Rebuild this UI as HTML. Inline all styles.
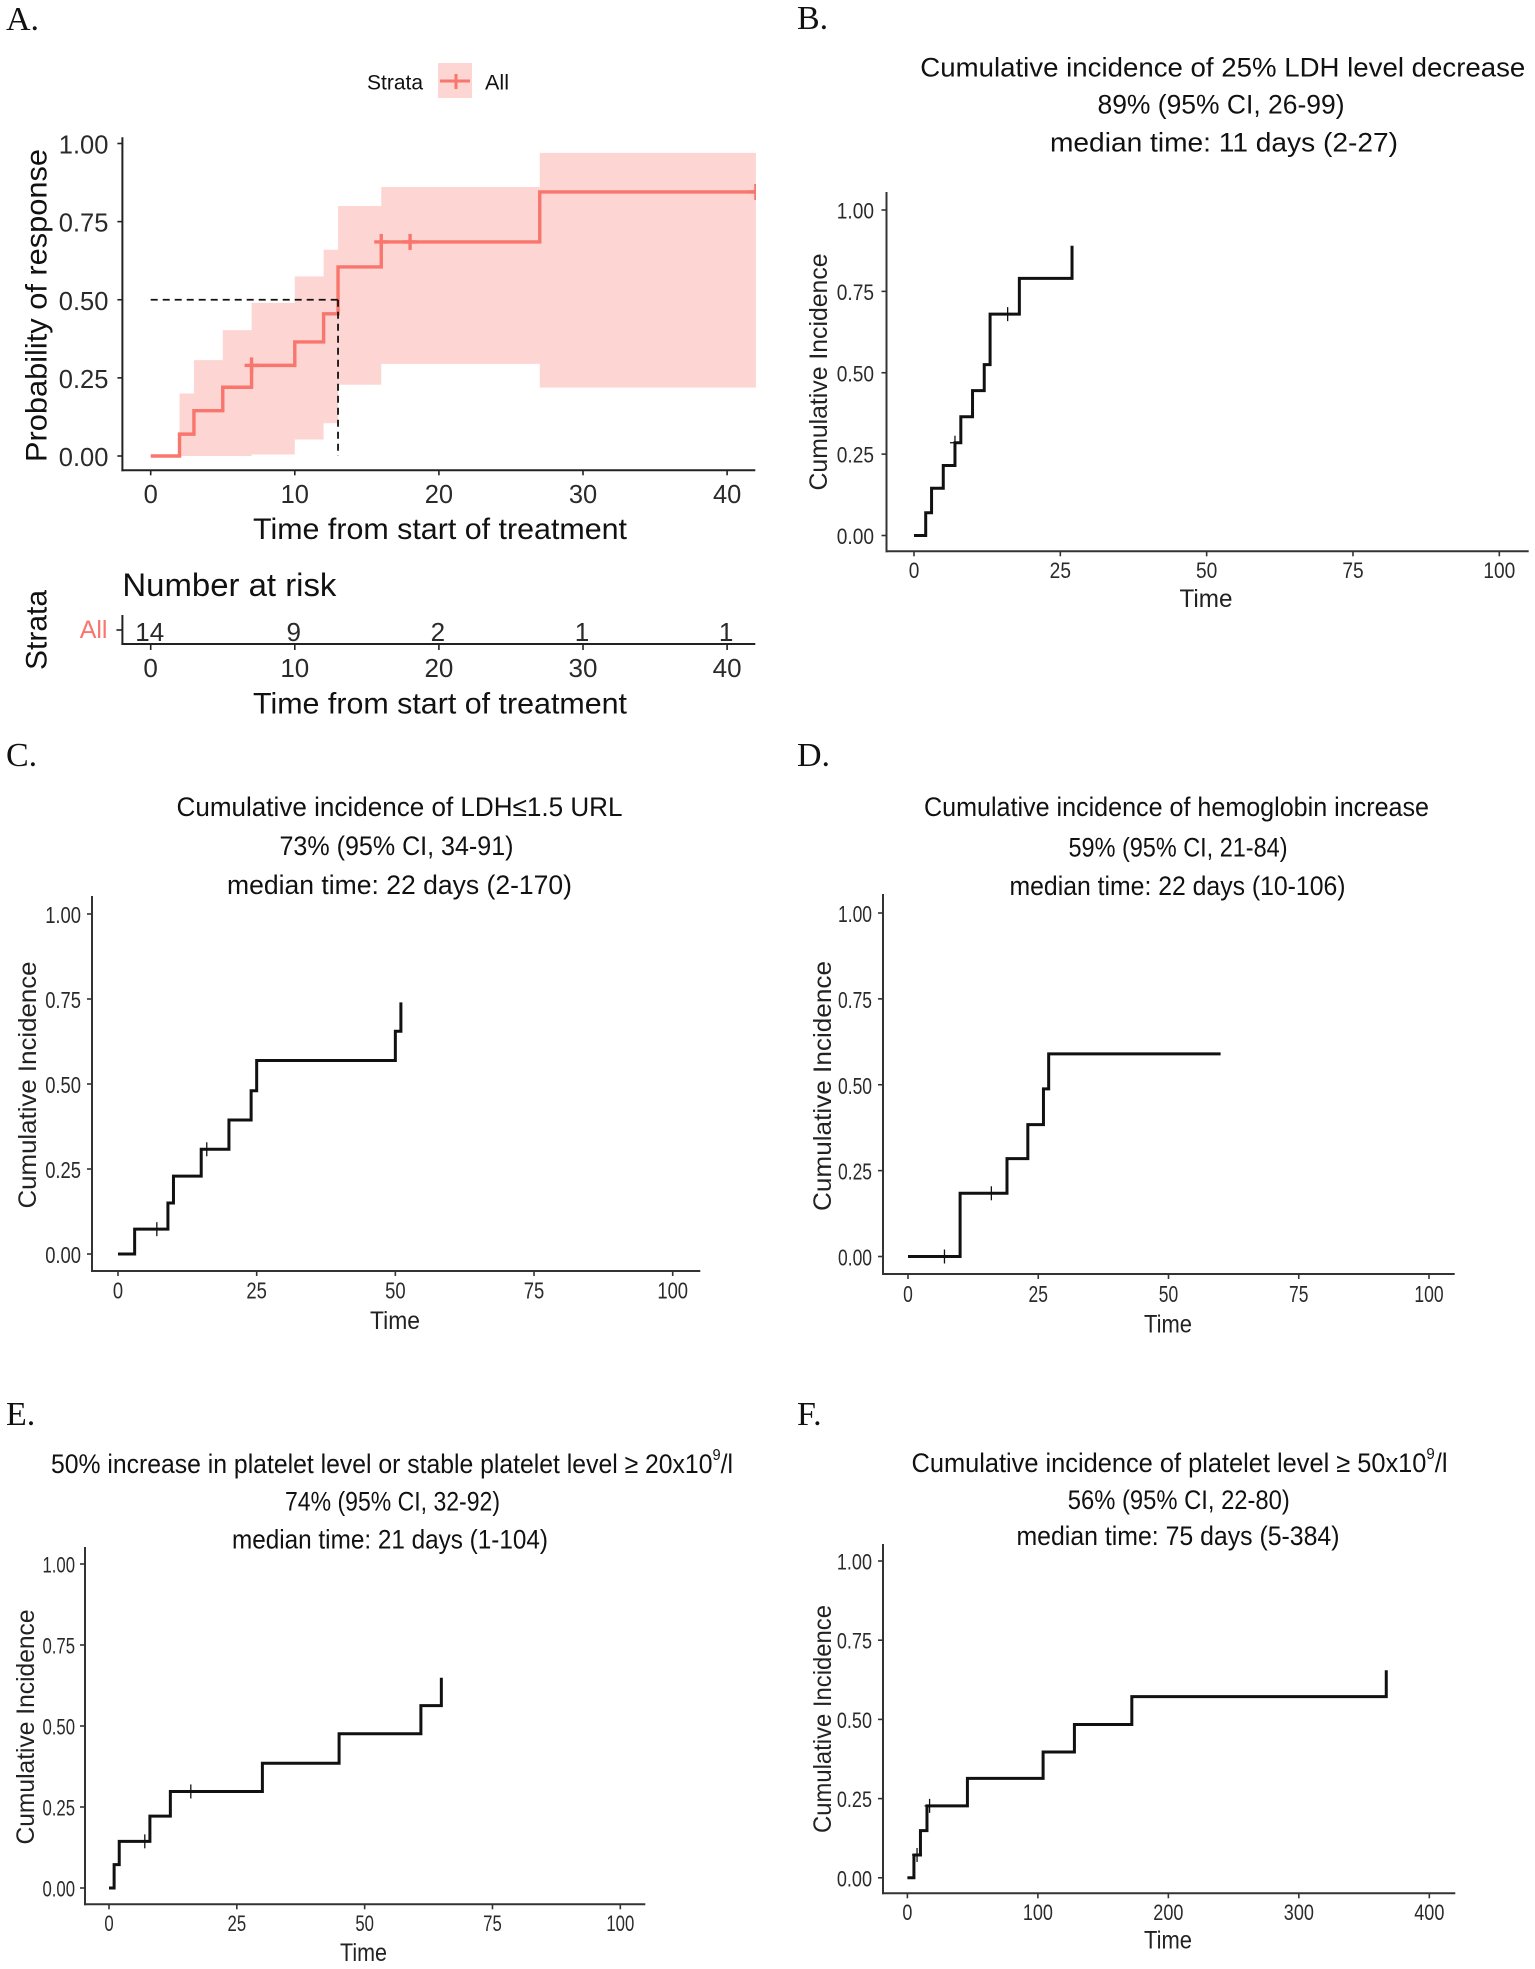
<!DOCTYPE html>
<html lang="en">
<head>
<meta charset="utf-8">
<title>Cumulative incidence panels</title>
<style>
html,body{margin:0;padding:0;background:#fff;}
svg{display:block;}
text{font-family:"Liberation Sans",sans-serif;fill:#111;}
.letter{font-family:"Liberation Serif",serif;font-size:34px;fill:#111;}
.title{font-size:27px;text-anchor:middle;dominant-baseline:central;fill:#111;}
.big{font-size:30px;text-anchor:middle;dominant-baseline:central;}
.yt{font-size:25px;text-anchor:middle;dominant-baseline:central;fill:#222;}
.xt{font-size:25px;text-anchor:middle;dominant-baseline:central;fill:#222;}
</style>
</head>
<body>
<svg id="fig" width="1535" height="1969" viewBox="0 0 1535 1969" xmlns="http://www.w3.org/2000/svg">
<defs><clipPath id="a-clip"><rect x="0" y="100" width="756" height="400"/></clipPath></defs>
<rect width="1535" height="1969" fill="#fff"/>

<text class="letter" x="6" y="30">A.</text>
<text class="letter" x="797" y="29">B.</text>
<text class="letter" x="6" y="766">C.</text>
<text class="letter" x="797" y="766">D.</text>
<text class="letter" x="6" y="1425">E.</text>
<text class="letter" x="797" y="1425">F.</text>

<g>
  <text x="395" y="83" font-size="21" text-anchor="middle" dominant-baseline="central" textLength="56" lengthAdjust="spacingAndGlyphs">Strata</text>
  <rect x="438" y="63" width="34" height="35" fill="#F8766D" fill-opacity="0.3"/>
  <line x1="440" y1="81" x2="470" y2="81" stroke="#F8766D" stroke-width="3"/>
  <line x1="456" y1="74" x2="456" y2="89" stroke="#F8766D" stroke-width="3"/>
  <text x="485" y="83" font-size="21" dominant-baseline="central" textLength="24" lengthAdjust="spacingAndGlyphs">All</text>
</g>

<text class="big" transform="translate(37,305.5) rotate(-90)" textLength="313" lengthAdjust="spacingAndGlyphs">Probability of response</text>
<text class="big" x="440" y="529.5" textLength="374" lengthAdjust="spacingAndGlyphs">Time from start of treatment</text>
<text x="122.4" y="585" font-size="32" dominant-baseline="central" textLength="214" lengthAdjust="spacingAndGlyphs">Number at risk</text>
<text class="big" transform="translate(37,630) rotate(-90)" textLength="80" lengthAdjust="spacingAndGlyphs">Strata</text>
<text x="107.5" y="630" font-size="25" text-anchor="end" dominant-baseline="central" style="fill:#F8766D">All</text>
<text class="big" x="440" y="704" textLength="374" lengthAdjust="spacingAndGlyphs">Time from start of treatment</text>

<g>
  <text class="title" x="1222.8" y="67.7" textLength="605" lengthAdjust="spacingAndGlyphs">Cumulative incidence of 25% LDH level decrease</text>
  <text class="title" x="1221" y="104.5" textLength="247" lengthAdjust="spacingAndGlyphs">89% (95% CI, 26-99)</text>
  <text class="title" x="1224" y="142.3" textLength="348" lengthAdjust="spacingAndGlyphs">median time: 11 days (2-27)</text>
</g>
<g>
  <text class="title" x="399.5" y="807" textLength="446" lengthAdjust="spacingAndGlyphs">Cumulative incidence of LDH≤1.5 URL</text>
  <text class="title" x="396.5" y="846" textLength="234" lengthAdjust="spacingAndGlyphs">73% (95% CI, 34-91)</text>
  <text class="title" x="399.5" y="885" textLength="345" lengthAdjust="spacingAndGlyphs">median time: 22 days (2-170)</text>
</g>
<g>
  <text class="title" x="1176.5" y="807" textLength="505" lengthAdjust="spacingAndGlyphs">Cumulative incidence of hemoglobin increase</text>
  <text class="title" x="1178" y="847.4" textLength="219" lengthAdjust="spacingAndGlyphs">59% (95% CI, 21-84)</text>
  <text class="title" x="1177.5" y="886" textLength="336" lengthAdjust="spacingAndGlyphs">median time: 22 days (10-106)</text>
</g>
<g>
  <text class="title" x="392" y="1464" textLength="682" lengthAdjust="spacingAndGlyphs">50% increase in platelet level or stable platelet level ≥ 20x10<tspan font-size="16" dy="-9">9</tspan><tspan dy="9">/l</tspan></text>
  <text class="title" x="392.5" y="1501.4" textLength="215" lengthAdjust="spacingAndGlyphs">74% (95% CI, 32-92)</text>
  <text class="title" x="390" y="1539.6" textLength="316" lengthAdjust="spacingAndGlyphs">median time: 21 days (1-104)</text>
</g>
<g>
  <text class="title" x="1179.5" y="1463" textLength="536" lengthAdjust="spacingAndGlyphs">Cumulative incidence of platelet level ≥ 50x10<tspan font-size="16" dy="-9">9</tspan><tspan dy="9">/l</tspan></text>
  <text class="title" x="1178.8" y="1500" textLength="222" lengthAdjust="spacingAndGlyphs">56% (95% CI, 22-80)</text>
  <text class="title" x="1178" y="1536" textLength="323" lengthAdjust="spacingAndGlyphs">median time: 75 days (5-384)</text>
</g>

<text class="yt" transform="translate(819,372) rotate(-90)" textLength="237" lengthAdjust="spacingAndGlyphs">Cumulative Incidence</text>
<text class="xt" x="1206" y="599" textLength="53" lengthAdjust="spacingAndGlyphs">Time</text>
<text class="yt" transform="translate(28,1085) rotate(-90)" textLength="247" lengthAdjust="spacingAndGlyphs">Cumulative Incidence</text>
<text class="xt" x="395" y="1321" textLength="50" lengthAdjust="spacingAndGlyphs">Time</text>
<text class="yt" transform="translate(823,1086) rotate(-90)" textLength="250" lengthAdjust="spacingAndGlyphs">Cumulative Incidence</text>
<text class="xt" x="1168" y="1324.5" textLength="48" lengthAdjust="spacingAndGlyphs">Time</text>
<text class="yt" transform="translate(26,1727) rotate(-90)" textLength="235" lengthAdjust="spacingAndGlyphs">Cumulative Incidence</text>
<text class="xt" x="363.5" y="1953" textLength="47" lengthAdjust="spacingAndGlyphs">Time</text>
<text class="yt" transform="translate(823,1719) rotate(-90)" textLength="228" lengthAdjust="spacingAndGlyphs">Cumulative Incidence</text>
<text class="xt" x="1168" y="1940.5" textLength="48" lengthAdjust="spacingAndGlyphs">Time</text>
</svg>

<script>
// ---------- chart data ----------
const yTickValues = [0, 0.25, 0.5, 0.75, 1];
const yTickLabels = ["0.00", "0.25", "0.50", "0.75", "1.00"];
const xTicksA = [0, 10, 20, 30, 40];
const xTicks100 = [0, 25, 50, 75, 100];
const xTicks400 = [0, 100, 200, 300, 400];

const aTimes = [0, 2, 3, 5, 7, 10, 12, 13, 16, 27, 42];
const aValues = [0, 0.07, 0.145, 0.22, 0.29, 0.365, 0.455, 0.605, 0.685, 0.845, 0.845];
const aCensorTimes = [7, 16, 18, 42];
const aCiTimes = [2, 3, 5, 7, 10, 12, 13, 16, 27, 42];
const aCiUpper = [0.2, 0.307, 0.403, 0.49, 0.575, 0.66, 0.8, 0.861, 0.97, 0.97];
const aCiLower = [0, 0, 0, 0.005, 0.053, 0.105, 0.228, 0.295, 0.219, 0.219];
const medianProbability = 0.5;
const medianTime = 13;
const riskTimes = [0, 10, 20, 30, 40];
const riskCounts = [14, 9, 2, 1, 1];

const bTimes = [0, 2, 3, 5, 7, 8, 10, 12, 13, 18, 27];
const bValues = [0, 0.07, 0.145, 0.215, 0.285, 0.365, 0.445, 0.525, 0.68, 0.79, 0.89];
const bCensorTimes = [7, 16];

const cTimes = [0, 3, 9, 10, 15, 20, 24, 25, 50, 51];
const cValues = [0, 0.073, 0.15, 0.229, 0.308, 0.394, 0.48, 0.569, 0.655, 0.74];
const cCensorTimes = [7, 16];

const dTimes = [0, 10, 19, 23, 26, 27, 60];
const dValues = [0, 0.184, 0.285, 0.384, 0.488, 0.59, 0.59];
const dCensorTimes = [7, 16];

const eTimes = [0, 1, 2, 8, 12, 30, 45, 61, 65];
const eValues = [0, 0.072, 0.144, 0.222, 0.298, 0.385, 0.476, 0.563, 0.649];
const eCensorTimes = [7, 16];

const fTimes = [0, 5, 10, 15, 46, 104, 128, 172, 367];
const fValues = [0, 0.072, 0.149, 0.227, 0.314, 0.397, 0.484, 0.572, 0.655];
const fCensorTimes = [7.4, 17];

// ---------- panel geometry ----------
const layoutA = {axisX:122.4, axisTop:137.3, axisY:470.3, right:755.3, y0:456, y1:143.5, x0:150.7, xUnit:14.41};
const layoutRisk = {top:615, axisY:644, right:755.3, strataY:630, countY:632, labelY:668};
const layoutB = {axisX:886.5, axisTop:192, axisY:551.3, right:1528.7, y0:535.5, y1:210, x0:914, xUnit:5.853, xLabelY:570.7, font:22, stretch:0.87, labelGap:12.5};
const layoutC = {axisX:92, axisTop:896, axisY:1271, right:700.3, y0:1254, y1:914, x0:118, xUnit:5.547, xLabelY:1290.7, font:23, stretch:0.8, labelGap:11};
const layoutD = {axisX:883, axisTop:894, axisY:1274, right:1454.7, y0:1256.5, y1:913, x0:908, xUnit:5.21, xLabelY:1294, font:23, stretch:0.76, labelGap:11};
const layoutE = {axisX:85, axisTop:1547, axisY:1904.3, right:645.3, y0:1888, y1:1564, x0:109, xUnit:5.113, xLabelY:1923.3, font:22, stretch:0.76, labelGap:10};
const layoutF = {axisX:883, axisTop:1544, axisY:1893.3, right:1455.3, y0:1877.8, y1:1561, x0:907.4, xUnit:1.3048, xLabelY:1912.3, font:22, stretch:0.82, labelGap:11};

const SVGNS = "http://www.w3.org/2000/svg";
const fig = document.getElementById("fig");

function xScale(layout, t){ return layout.x0 + t * layout.xUnit; }
function yScale(layout, v){ return layout.y0 + v * (layout.y1 - layout.y0); }
function stepValue(times, values, t){
  let v = values[0];
  for (let i = 0; i < times.length; i++){ if (times[i] <= t) v = values[i]; }
  return v;
}
function stepPath(layout, times, values){
  let d = "M" + xScale(layout, times[0]) + " " + yScale(layout, values[0]);
  for (let i = 1; i < times.length; i++){
    d += "H" + xScale(layout, times[i]) + "V" + yScale(layout, values[i]);
  }
  return d;
}
function makeLine(parent, x1, y1, x2, y2, stroke, width){
  const el = document.createElementNS(SVGNS, "line");
  el.setAttribute("x1", x1);
  el.setAttribute("y1", y1);
  el.setAttribute("x2", x2);
  el.setAttribute("y2", y2);
  el.setAttribute("stroke", stroke);
  el.setAttribute("stroke-width", width);
  parent.appendChild(el);
  return el;
}
function labelWidth(str, size, stretch){
  let w = 0;
  for (const ch of String(str)){ w += ch === "." ? 0.278 : 0.556; }
  return w * size * stretch;
}
function makeLabel(parent, x, y, str, size, anchor, stretch){
  const el = document.createElementNS(SVGNS, "text");
  el.setAttribute("x", x);
  el.setAttribute("y", y);
  el.setAttribute("font-size", size);
  el.setAttribute("text-anchor", anchor);
  el.setAttribute("dominant-baseline", "central");
  el.setAttribute("textLength", labelWidth(str, size, stretch).toFixed(1));
  el.setAttribute("lengthAdjust", "spacingAndGlyphs");
  el.style.fill = "#2a2a2a";
  el.textContent = str;
  parent.appendChild(el);
  return el;
}

function drawAxes(key, layout, xTicks, font, stretch, labelGap, xLabelY, tickLen, axisColor){
  const group = document.createElementNS(SVGNS, "g");
  
  
  fig.appendChild(group);

  const yAxis = makeLine(group, layout.axisX, layout.axisTop, layout.axisX, layout.axisY + 1, axisColor, 2);
  
  
  const xAxis = makeLine(group, layout.axisX - 1, layout.axisY, layout.right, layout.axisY, axisColor, 2);
  
  

  yTickValues.forEach(function(v, i){
    const py = yScale(layout, v);
    const tick = makeLine(group, layout.axisX - tickLen, py, layout.axisX, py, axisColor, 1.6);
    
    
    const lab = makeLabel(group, layout.axisX - labelGap, py + 1, yTickLabels[i], font, "end", stretch);
    
    
  });
  xTicks.forEach(function(t){
    const px = xScale(layout, t);
    const tick = makeLine(group, px, layout.axisY, px, layout.axisY + tickLen, axisColor, 1.6);
    
    
    const lab = makeLabel(group, px, xLabelY, String(t), font, "middle", stretch);
    
    
  });
}

function drawSteps(key, layout, times, values, censorTimes, color, width, censorWidth, censorV, censorH){
  const group = document.createElementNS(SVGNS, "g");
  
  
  if (key === "a") {
    group.setAttribute("clip-path", "url(#a-clip)");
  }
  fig.appendChild(group);

  const path = document.createElementNS(SVGNS, "path");
  path.setAttribute("d", stepPath(layout, times, values));
  path.setAttribute("fill", "none");
  path.setAttribute("stroke", color);
  path.setAttribute("stroke-width", width);
  
  
  group.appendChild(path);

  censorTimes.forEach(function(t){
    const px = xScale(layout, t);
    const py = yScale(layout, stepValue(times, values, t));
    const v = makeLine(group, px, py - censorV, px, py + censorV, color, censorWidth);
    
    
    const h = makeLine(group, px - censorH, py, px + censorH, py, color, censorWidth);
    
    
  });
}

function drawRibbon(layout){
  const n = aCiTimes.length;
  let d = "M" + xScale(layout, aCiTimes[0]) + " " + yScale(layout, aCiUpper[0]);
  for (let i = 1; i < n; i++){
    d += "H" + xScale(layout, aCiTimes[i]) + "V" + yScale(layout, aCiUpper[i]);
  }
  d += "V" + yScale(layout, aCiLower[n - 1]);
  for (let i = n - 2; i >= 0; i--){
    d += "V" + yScale(layout, aCiLower[i]) + "H" + xScale(layout, aCiTimes[i]);
  }
  const ribbon = document.createElementNS(SVGNS, "path");
  ribbon.setAttribute("d", d + "Z");
  ribbon.setAttribute("fill", "#F8766D");
  ribbon.setAttribute("fill-opacity", "0.3");
  ribbon.setAttribute("clip-path", "url(#a-clip)");
  
  
  fig.appendChild(ribbon);
}

function drawMedian(layout){
  const hLine = makeLine(fig, xScale(layout, 0), yScale(layout, medianProbability), xScale(layout, medianTime), yScale(layout, medianProbability), "#111", 1.8);
  hLine.setAttribute("stroke-dasharray", "7 5");
  
  
  const vLine = makeLine(fig, xScale(layout, medianTime), yScale(layout, medianProbability), xScale(layout, medianTime), yScale(layout, 0), "#111", 1.8);
  vLine.setAttribute("stroke-dasharray", "7 5");
  
  
}

function drawRiskTable(layout, rows){
  const group = document.createElementNS(SVGNS, "g");
  
  
  fig.appendChild(group);

  const yAxis = makeLine(group, layout.axisX, rows.top, layout.axisX, rows.axisY + 1, "#222", 2);
  
  
  const xAxis = makeLine(group, layout.axisX - 1, rows.axisY, rows.right, rows.axisY, "#222", 2);
  
  
  const strataTick = makeLine(group, layout.axisX - 6, rows.strataY, layout.axisX, rows.strataY, "#222", 1.6);
  
  

  riskTimes.forEach(function(t, i){
    const px = xScale(layout, t);
    const tick = makeLine(group, px, rows.axisY, px, rows.axisY + 6, "#222", 1.6);
    
    
    const lab = makeLabel(group, px, rows.labelY, String(t), 26, "middle", 1);
    
    
    const count = makeLabel(group, px - 1, rows.countY, String(riskCounts[i]), 26, "middle", 1);
    
    
  });
}

drawRibbon(layoutA);
drawAxes("a", layoutA, xTicksA, 26, 0.98, 14, 494, 5, "#222");
drawSteps("a", layoutA, aTimes, aValues, aCensorTimes, "#F8766D", 3.4, 3.4, 8, 7);
drawMedian(layoutA);
drawRiskTable(layoutA, layoutRisk);

drawAxes("b", layoutB, xTicks100, layoutB.font, layoutB.stretch, layoutB.labelGap, layoutB.xLabelY, 5, "#333");
drawSteps("b", layoutB, bTimes, bValues, bCensorTimes, "#111", 3, 1.3, 7, 5);
drawAxes("c", layoutC, xTicks100, layoutC.font, layoutC.stretch, layoutC.labelGap, layoutC.xLabelY, 5, "#333");
drawSteps("c", layoutC, cTimes, cValues, cCensorTimes, "#111", 3, 1.3, 7, 5);
drawAxes("d", layoutD, xTicks100, layoutD.font, layoutD.stretch, layoutD.labelGap, layoutD.xLabelY, 5, "#333");
drawSteps("d", layoutD, dTimes, dValues, dCensorTimes, "#111", 3, 1.3, 7, 5);
drawAxes("e", layoutE, xTicks100, layoutE.font, layoutE.stretch, layoutE.labelGap, layoutE.xLabelY, 5, "#333");
drawSteps("e", layoutE, eTimes, eValues, eCensorTimes, "#111", 3, 1.3, 7, 5);
drawAxes("f", layoutF, xTicks400, layoutF.font, layoutF.stretch, layoutF.labelGap, layoutF.xLabelY, 5, "#333");
drawSteps("f", layoutF, fTimes, fValues, fCensorTimes, "#111", 3, 1.3, 7, 5);
</script>
</body>
</html>
